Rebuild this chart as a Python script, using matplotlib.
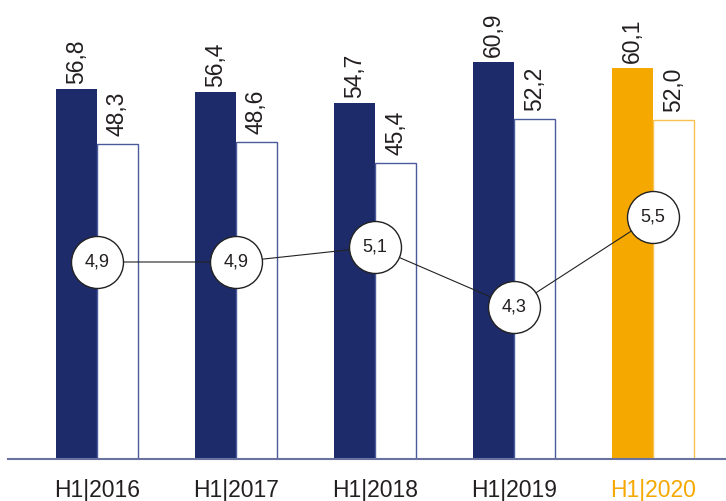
import numpy as np
import matplotlib
matplotlib.use("Agg")
import matplotlib.pyplot as plt

plt.rcParams['font.family'] = ['Liberation Sans', 'DejaVu Sans']

# data
categories = ['H1|2016', 'H1|2017', 'H1|2018', 'H1|2019', 'H1|2020']
series_a = [56.8, 56.4, 54.7, 60.9, 60.1]
series_b = [48.3, 48.6, 45.4, 52.2, 52.0]
line_vals = [4.9, 4.9, 5.1, 4.3, 5.5]

navy = '#1d2b6b'
orange = '#f5a800'
txt = '#231f20'


def fmt(v):
    return ('%.1f' % v).replace('.', ',')


fig = plt.figure(figsize=(7.26, 5.01), dpi=100)
ax = fig.add_axes([0, 42 / 501, 1, 459 / 501])

x = np.arange(len(categories))
w = 41 / 139
fill_cols = [navy] * 4 + [orange]
edge_cols = ['#4a5a9a'] * 4 + ['#f8c050']

ax.bar(x - w / 2, series_a, w, color=fill_cols, edgecolor=fill_cols, linewidth=0)
ax.bar(x + w / 2, series_b, w, color='white', edgecolor=edge_cols, linewidth=1)

for i in range(len(categories)):
    ax.annotate(fmt(series_a[i]), (x[i] - w / 2, series_a[i]), xytext=(0, 5),
                textcoords='offset pixels', rotation=90, ha='center', va='bottom',
                fontsize=16.5, color=txt)
    ax.annotate(fmt(series_b[i]), (x[i] + w / 2, series_b[i]), xytext=(0, 8),
                textcoords='offset pixels', rotation=90, ha='center', va='bottom',
                fontsize=16.5, color=txt)
    ax.text(x[i], -38 / 6.514, categories[i], ha='center', va='baseline', fontsize=16.5,
            color=orange if i == 4 else txt)

ax.set_xlim(-97 / 139, (726 - 97) / 139)
ax.set_ylim(0, 459 / 6.514)
for s in ['top', 'right', 'left']:
    ax.spines[s].set_visible(False)
ax.spines['bottom'].set_color('#6a73a0')
ax.spines['bottom'].set_linewidth(1.5)
ax.spines['bottom'].set_bounds(-89 / 139, (726 - 97) / 139)
ax.set_xticks([])
ax.set_yticks([])
ax.patch.set_alpha(0)

ax2 = ax.twinx()
ax2.set_ylim(4.9 - 197 / 75, 4.9 + 262 / 75)
ax2.plot(x, line_vals, color='#222222', lw=0.8, zorder=2)
ax2.scatter(x, line_vals, s=1400, facecolor='white', edgecolor='#222222', linewidth=1, zorder=3)
for i in range(len(categories)):
    ax2.text(x[i], line_vals[i], fmt(line_vals[i]), ha='center', va='center',
             fontsize=13, color=txt, zorder=4)
ax2.axis('off')

fig.savefig('out.png', dpi=100)
